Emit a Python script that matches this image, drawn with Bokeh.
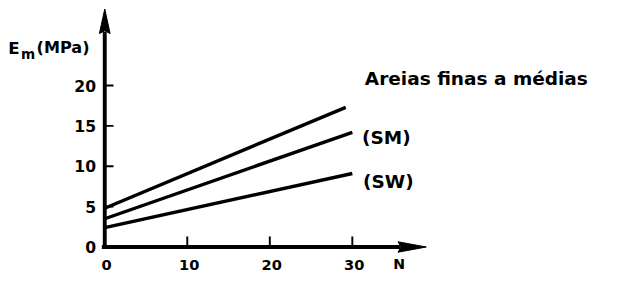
from bokeh.plotting import figure
from bokeh.models import Range1d
from bokeh.core.properties import value
from bokeh.embed import file_html
from bokeh.resources import INLINE

# ---- data ----
top_N = [0, 29.2]
top_E = [4.8, 17.3]
sm_N = [0, 30]
sm_E = [3.5, 14.2]
sw_N = [0, 30]
sw_E = [2.4, 9.1]

x_ticks = [0, 10, 20, 30]
y_ticks = [0, 5, 10, 15, 20]
x_tick_labels = ["0", "10", "20", "30"]
y_tick_labels = ["0", "5", "10", "15", "20"]

title_text = "Areias finas a médias"
sm_text = "(SM)"
sw_text = "(SW)"
x_label = "N"

# ---- layout ----
W, H = 607, 272               # fits the 623x288 window with its 8px margin
RW, RH = 623, 288             # reference canvas the geometry was measured on
sx, sy = 8.47, 8.55           # reference px per data unit
ox, oy = 107, 27              # origin in reference px (from left, from bottom)
px, py = 1.0 / sx, 1.0 / sy   # one reference pixel in data units
k = W / RW                    # size scale

p = figure(width=W, height=H,
           x_range=Range1d(-ox * px, (RW - ox) * px),
           y_range=Range1d(-oy * py, (RH - oy) * py),
           x_axis_type=None, y_axis_type=None,
           toolbar_location=None, output_backend="svg",
           min_border=0)
p.min_border_left = p.min_border_right = p.min_border_top = p.min_border_bottom = 0
p.grid.visible = False
p.outline_line_color = None
p.background_fill_color = "white"
p.border_fill_color = "white"

FONT = value("DejaVu Sans")
BLACK = "#000000"


def fs(v):
    return "%.1fpx" % (v * k)


# axes with arrow heads
y_tip = 29.47
y_base = y_tip - 26 * py
x_tip = 38.96
x_base = x_tip - 29 * px
p.segment(x0=[0], y0=[-2 * py], x1=[0], y1=[y_base + 2 * py], line_width=4 * k, line_color=BLACK)
p.segment(x0=[-3 * px], y0=[0], x1=[x_base + 2 * px], y1=[0], line_width=4 * k, line_color=BLACK)
p.patch(x=[0, -5.5 * px, 0, 5.5 * px], y=[y_tip, y_base, y_base + 3 * py, y_base],
        fill_color=BLACK, line_color=BLACK, line_width=1)
p.patch(x=[x_tip, x_base, x_base + 3 * px, x_base], y=[0, 5.5 * py, 0, -5.5 * py],
        fill_color=BLACK, line_color=BLACK, line_width=1)

# tick marks (pointing inwards)
yt = [v for v in y_ticks if v != 0]
p.segment(x0=[0] * len(yt), y0=yt, x1=[9 * px] * len(yt), y1=yt, line_width=2 * k, line_color=BLACK)
xt = [v for v in x_ticks if v != 0]
p.segment(x0=xt, y0=[0] * len(xt), x1=xt, y1=[11 * py] * len(xt), line_width=2 * k, line_color=BLACK)

# tick labels
p.text(x=[-9 * px] * len(y_ticks), y=y_ticks, text=y_tick_labels,
       text_font=FONT, text_font_style="bold", text_font_size=fs(16),
       text_align="right", text_baseline="middle", text_color=BLACK)
p.text(x=[v + 2 * px for v in x_ticks], y=[-19.5 * py] * len(x_ticks), text=x_tick_labels,
       text_font=FONT, text_font_style="bold", text_font_size=fs(15),
       text_align="center", text_baseline="alphabetic", text_color=BLACK)

# data lines
for xs, ys in [(top_N, top_E), (sm_N, sm_E), (sw_N, sw_E)]:
    p.line(xs, ys, line_width=3.5 * k, line_color=BLACK, line_cap="butt")

# annotations
p.text(x=[31.52], y=[20.82], text=[title_text], text_font=FONT, text_font_style="bold",
       text_font_size=fs(19), text_align="left", text_baseline="alphabetic", text_color=BLACK)
p.text(x=[31.17], y=[13.57], text=[sm_text], text_font=FONT, text_font_style="bold",
       text_font_size=fs(19), text_align="left", text_baseline="alphabetic", text_color=BLACK)
p.text(x=[31.29], y=[8.07], text=[sw_text], text_font=FONT, text_font_style="bold",
       text_font_size=fs(19), text_align="left", text_baseline="alphabetic", text_color=BLACK)

# axis labels
p.text(x=[35.66], y=[-18 * py], text=[x_label], text_font=FONT, text_font_style="bold",
       text_font_size=fs(14.5), text_align="center", text_baseline="alphabetic", text_color=BLACK)
p.text(x=[-11.69], y=[24.56], text=["E"], text_font=FONT, text_font_style="bold",
       text_font_size=fs(17), text_align="left", text_baseline="alphabetic", text_color=BLACK)
p.text(x=[-10.15], y=[23.86], text=["m"], text_font=FONT, text_font_style="bold",
       text_font_size=fs(14), text_align="left", text_baseline="alphabetic", text_color=BLACK)
p.text(x=[-8.26], y=[24.68], text=["(MPa)"], text_font=FONT, text_font_style="bold",
       text_font_size=fs(16.5), text_align="left", text_baseline="alphabetic", text_color=BLACK)

open("out.html", "w").write(file_html(p, INLINE))
